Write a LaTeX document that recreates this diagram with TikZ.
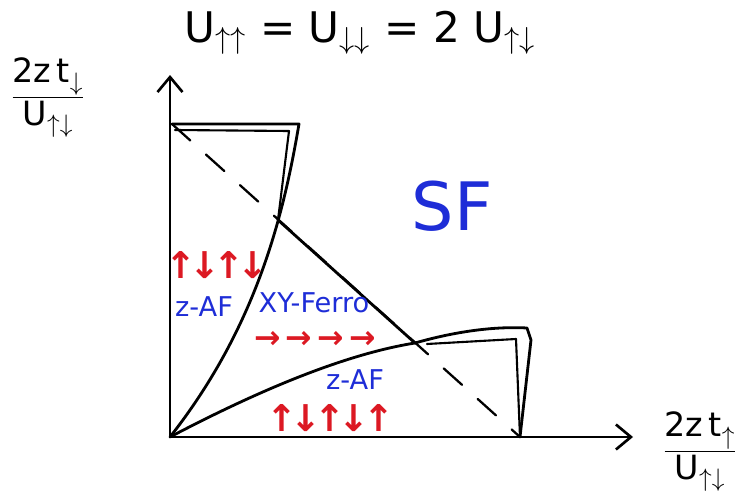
\documentclass[tikz,border=0pt]{standalone}
\usepackage{fontspec}
\setmainfont{DejaVu Sans}
\usetikzlibrary{arrows.meta}
\definecolor{spinred}{RGB}{220,25,35}
\definecolor{phaseblue}{RGB}{30,45,215}
\newcommand{\sk}{\kern-3.8pt}
\tikzset{
  axis/.style={-{Straight Barb[length=3mm, width=5mm, line width=1.5pt]}, line width=1.5pt},
  bound/.style={line width=1.6pt, line join=round, line cap=round},
  lbl/.style={text=phaseblue, inner sep=1pt, font=\fontsize{15.5}{18}\selectfont},
  spin/.style={text=spinred, inner sep=0pt, font=\fontsize{21}{23}\selectfont\bfseries},
}
\begin{document}
\begin{tikzpicture}[x=0.02cm, y=-0.02cm]
  \useasboundingbox (0,0) rectangle (745,497);
  % corners of the phase diagram
  \coordinate (O) at (170,437);
  \coordinate (ytip) at (170,75);
  \coordinate (xtip) at (633,437);
  \coordinate (A) at (172,124);
  \coordinate (B) at (299,124);
  \coordinate (P) at (278,220);
  \coordinate (Q) at (415,343);
  \coordinate (D) at (527,328);
  \coordinate (E) at (520,437);
  % axes
  \draw[axis] (O) -- (ytip);
  \draw[axis] (O) -- (xtip);
  % upper z-AF region
  \draw[bound] (A) -- (B) .. controls (284,212) and (258,325) .. (O);
  \draw[bound, line width=1.2pt] (175,130) -- (289,131) -- (P);
  % XY-Ferro / SF boundary
  \draw[bound] (P) -- (Q);
  % lower z-AF region
  \draw[bound] (O) .. controls (250,395) and (340,355) .. (Q)
    .. controls (450,333) and (490,326) .. (D) -- (531,340) -- (E);
  \draw[bound, line width=1.2pt] (427,344) -- (516,339) -- (E);
  % diagonal
  \draw[bound, line width=1.3pt, dash pattern=on 14pt off 12pt] (A) -- (E);
  % labels
  \node[font=\fontsize{24}{28}\selectfont] (title) at (360,33) {U$_{\uparrow\uparrow}$ = U$_{\downarrow\downarrow}$ = 2 U$_{\uparrow\downarrow}$};
  \node[font=\fontsize{19}{22}\selectfont] (ylab) at (48,98) {$\displaystyle\frac{\mbox{2z\,t}_{\downarrow}}{\mbox{U}_{\uparrow\downarrow}}$};
  \node[font=\fontsize{19}{22}\selectfont] (xlab) at (700,452) {$\displaystyle\frac{\mbox{2z\,t}_{\uparrow}}{\mbox{U}_{\uparrow\downarrow}}$};
  \node[text=phaseblue, font=\fontsize{38}{42}\selectfont] (sf) at (452,206) {SF};
  \node[spin] (zafspin) at (217,265) {↑\sk↓\sk↑\sk↓};
  \node[lbl] (zaf) at (204,307) {z-AF};
  \node[lbl] (xy) at (314,303) {XY-Ferro};
  \node[spin, font=\fontsize{18}{20}\selectfont\bfseries] (xyspin) at (315,340) {→\,→\,→\,→};
  \node[lbl] (zaflow) at (355,380) {z-AF};
  \node[spin] (zaflowspin) at (330,418) {↑\sk↓\sk↑\sk↓\sk↑};
\end{tikzpicture}
\end{document}
